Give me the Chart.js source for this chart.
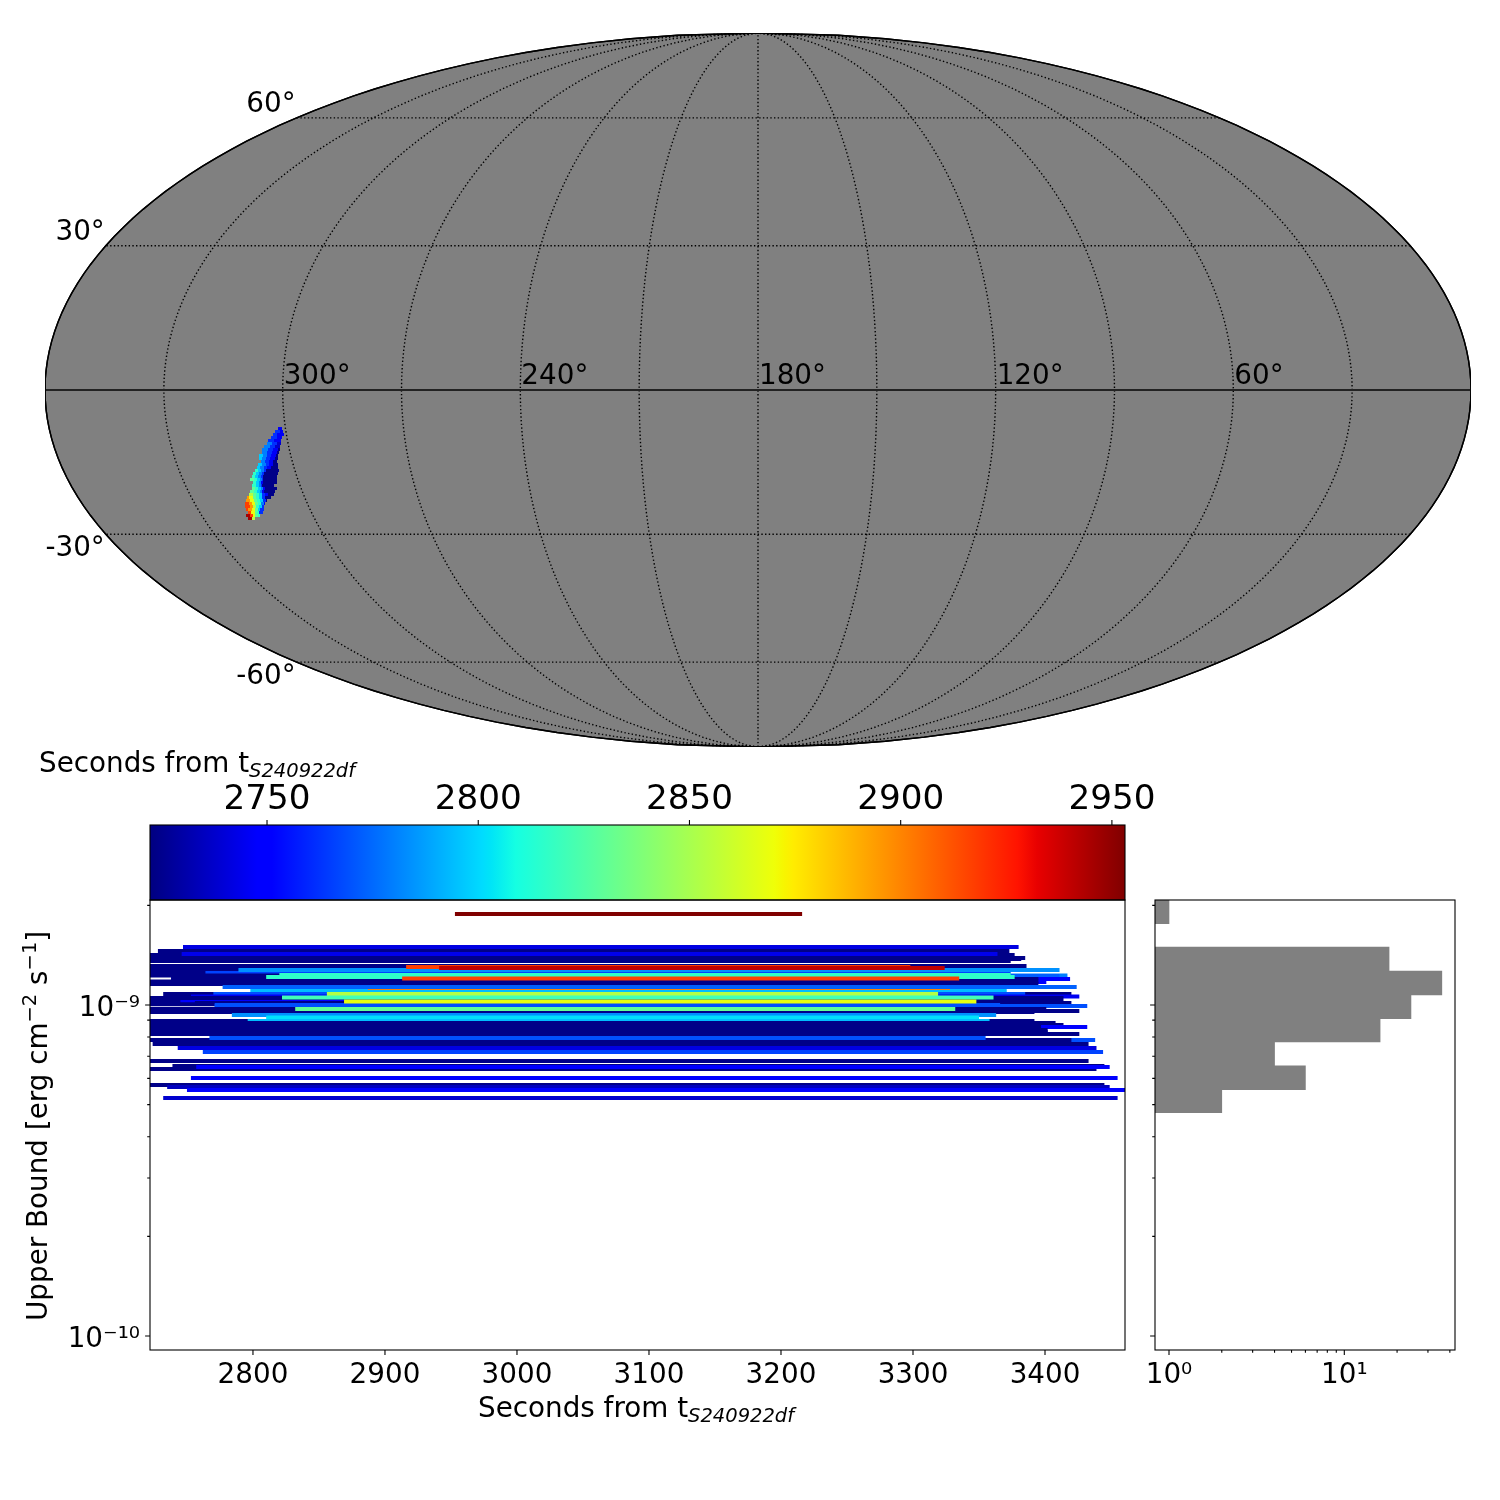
<!DOCTYPE html>
<html>
<head>
<meta charset="utf-8">
<title>S240922df upper bounds</title>
<script src="https://cdn.jsdelivr.net/npm/chart.js@4"></script>
<style>
  html, body { margin: 0; background: #fff; }
  #page { position: relative; width: 1500px; height: 1500px; overflow: hidden; }
  canvas { position: absolute; }
</style>
</head>
<body>
<div id="page">
  <canvas id="map" width="1500" height="760" style="left:0;top:0"></canvas>
  <canvas id="bar" width="1200" height="165" style="left:0;top:740px"></canvas>
  <canvas id="bounds" width="1140" height="550" style="left:0;top:890px"></canvas>
  <canvas id="hist" width="340" height="520" style="left:1140px;top:890px"></canvas>
</div>
<script>
const FONT = '"DejaVu Sans"';
const D = 2724;

// colorbar range and ticks
const timeMin = 2722.3;
const timeMax = 2953.1;
const barTicks = [2750, 2800, 2850, 2900, 2950];

// main panel: one horizontal line per row, later rows are drawn on top
const secondsMin = 2722;
const secondsMax = 3460.6;
const boundMin = 9.07e-11;
const boundMax = 2.076e-9;
const secondsTicks = [2800, 2900, 3000, 3100, 3200, 3300, 3400];

const lineBounds = [
  1.456, 1.497, 1.416, 1.426, 1.387, 1.377, 1.358, 1.312, 1.285, 1.249,
  1.249, 1.228, 1.223, 1.228, 1.198, 1.198, 1.174, 1.178, 1.157, 1.276,
  1.215, 1.110, 1.126, 1.133, 1.080, 1.080, 1.061, 1.050, 1.021, 1.021,
  1.014, 1.006, 0.993, 1.000, 0.959, 0.9726, 0.952, 0.933, 0.8947, 0.9168,
  0.8947, 0.8822, 0.870, 0.858, 0.858, 0.840, 0.830, 0.8177, 0.784, 0.784,
  0.795, 0.762, 0.7414, 0.7209, 0.6774, 0.6542, 0.6407, 0.6497, 0.6017, 0.5735,
  0.5655, 0.5535, 0.5236, 1.883, 1.303, 1.294, 1.232, 1.202, 1.080, 1.054,
  1.025, 0.9726
];
const lineStarts = [
  2728, 2747, 2700, 2746, 2700, 2700, 2700, 2700, 2700, 2700,
  2764, 2820, 2810, 2700, 2738, 2738, 2700, 2700, 2700, 2789,
  2810, 2798, 2887, 2777, 2732, 2770, 2753, 2700, 2700, 2745,
  2756, 2700, 2771, 2771, 2700, 2700, 2700, 2784, 2700, 2810,
  2796, 2700, 2700, 2796, 2700, 2700, 2700, 2700, 2767, 2700,
  2767, 2724, 2743, 2762, 2700, 2739, 2700, 2757, 2753, 2700,
  2735, 2750, 2732, 2953, 2916, 2941, 2820, 2913, 2856, 2822,
  2869, 2832
];
const lineEnds = [
  3373, 3380, 3377, 3364, 3385, 3382, 3374, 3386, 3365, 3360,
  3374, 3417, 3411, 2830, 3419, 3395, 3401, 3395, 3395, 3411,
  3377, 3371, 3328, 3424, 3420, 3385, 3426, 3414, 3414, 3348,
  3420, 3390, 3432, 3366, 3426, 3401, 3392, 3363, 3392, 3350,
  3358, 3408, 3414, 3432, 3397, 3402, 3402, 3426, 3438, 3420,
  3355, 3433, 3439, 3444, 3433, 3445, 3439, 3449, 3455, 3445,
  3449, 3462, 3455, 3216, 3298, 3324, 3374, 3335, 3319, 3361,
  3348, 3332
];
const lineTimes = [
  D, 2742, D, 2744, D, D, D, D, D, D,
  2766, 2780, 2773, D, 2750, D, 2750, D, D, 2784,
  2816, 2794, 2901, 2773, D, 2769, 2745, D, D, 2750,
  D, D, 2769, 2769, D, D, D, 2784, D, 2802,
  2794, D, D, 2750, D, D, D, D, 2769, D,
  2769, D, 2742, 2766, D, D, D, 2750, 2750, D,
  2735, 2750, 2738, 2953, 2917, 2940, 2816, 2917, 2853, 2821,
  2868, 2830
];

// histogram of the upper bounds
const histBins = [1.912, 1.377, 1.165, 0.988, 0.840, 0.711, 0.603, 0.513];
const histCounts = [1, 18, 36, 24, 16, 4, 6, 2];
const countMin = 0.832;
const countMax = 42.8;
const countMajor = [1, 10];
const countMinor = [2, 3, 4, 5, 6, 7, 8, 9, 20, 30, 40];
const boundMajor = [1e-10, 1e-9];
const boundMinor = [2e-10, 3e-10, 4e-10, 5e-10, 6e-10, 7e-10, 8e-10, 9e-10, 2e-9];

// sky map, Mollweide plane
const mapHalfWidth = 713;
const mapHalfHeight = 357;
const meridians = [30, 60, 90, 120, 150, 180, 210, 240, 270, 300, 330];
const parallels = [-60, -30, 30, 60];
const meridianLabels = [300, 240, 180, 120, 60];
const parallelLabels = [60, 30, -30, -60];

// sky patch, rows of cells in the Mollweide plane: edges left to right and the time of each band
const tB1 = 2738, tB2 = 2746, tB3 = 2762, tB4 = 2780, tC = 2797, tA = 2816, tG = 2830;
const tY1 = 2853, tY = 2868, tO = 2895, tR = 2917, tDR = 2945;
const patchRowY = [
  -38.5, -41.5, -44.5, -47.5, -50.5, -53.5, -56.5, -59.5, -62.5, -65.5, -68.5,
  -71.5, -74.5, -77.5, -80.5, -83.5, -86.5, -89.5, -92.5, -95.5, -98.5,
  -101.5, -104.5, -107.5, -110.5, -113.5, -116.5, -119.5, -122.5, -125.5, -128.5
];
const patchRowEdges = [
  [-480, -476], [-483, -478, -475], [-485, -481, -474], [-487, -481, -476], [-490, -484, -477],
  [-491, -486, -481, -477], [-494, -488, -483, -478], [-496, -490, -485, -480, -478],
  [-496, -491, -486, -481, -479], [-499, -495, -491, -487, -482, -480], [-499, -496, -492, -488, -483, -480],
  [-497, -493, -489, -485, -481], [-500, -496, -492, -489, -485, -480], [-501, -498, -494, -491, -487, -480],
  [-503, -500, -497, -494, -492, -479], [-505, -502, -499, -496, -494, -480], [-506, -503, -500, -497, -495, -481],
  [-508, -504, -501, -498, -496, -495, -481], [-505, -502, -499, -497, -495, -481], [-506, -502, -499, -497, -496, -484],
  [-506, -503, -500, -497, -495, -493, -481], [-508, -504, -501, -498, -496, -494, -483],
  [-509, -505, -502, -499, -496, -493, -490, -484], [-511, -509, -505, -502, -499, -496, -493, -487],
  [-512, -508, -504, -501, -498, -495, -492, -491], [-513, -509, -506, -503, -500, -497, -494, -493],
  [-513, -508, -505, -502, -499, -496, -494], [-512, -510, -506, -503, -500, -498, -494],
  [-510, -507, -503, -501, -499, -495], [-512, -508, -505, -503, -500, -498], [-510, -506, -503]
];
const patchRowTimes = [
  [tB2], [tB3, tB2], [tB3, tB2], [tB3, tB2], [tB3, tB2],
  [tB4, tB3, tB1], [tB4, tB3, tB1], [tB4, tB3, tB2, D],
  [tB4, tB3, tB2, D], [tC, tB4, tB3, tB2, D], [tC, tB4, tB3, tB2, D],
  [tB4, tB3, tB2, D], [tC, tB4, tB3, tB2, D], [tC, tB4, tB3, tB2, D],
  [tA, tC, tB4, tB3, D], [tA, tC, tB4, tB3, D], [tA, tC, tB4, tB3, D],
  [tG, tA, tC, tB4, tB3, D], [tA, tC, tB4, tB2, D], [tA, tC, tB4, tB3, D],
  [tG, tA, tC, tB4, tB2, D], [tG, tA, tC, tB4, tB2, D],
  [tY1, tG, tA, tC, tB3, tB2, D], [tO, tY, tG, tA, tC, tB3, D],
  [tO, tY, tG, tA, tC, tB3, D], [tR, tO, tY, tG, tA, tB4, tB2],
  [tR, tO, tY1, tA, tC, tB3], [tR, tO, tY, tG, tC, tB3],
  [tR, tY, tG, tA, tB3], [tDR, tR, tY, tG, tA], [tDR, tY1]
];

// jet colormap anchors
const jetRed = [[0, 0], [0.35, 0], [0.66, 1], [0.89, 1], [1, 0.5]];
const jetGreen = [[0, 0], [0.125, 0], [0.375, 1], [0.64, 1], [0.91, 0], [1, 0]];
const jetBlue = [[0, 0.5], [0.11, 1], [0.34, 1], [0.65, 0], [1, 0]];
const gradientStops = [0, 0.11, 0.125, 0.34, 0.35, 0.375, 0.64, 0.65, 0.66, 0.89, 0.91, 1];

function channel(anchors, f) {
  for (let i = 1; i < anchors.length; i++) {
    if (f <= anchors[i][0]) {
      const [x0, y0] = anchors[i - 1];
      const [x1, y1] = anchors[i];
      return y0 + (y1 - y0) * (f - x0) / (x1 - x0);
    }
  }
  return anchors[anchors.length - 1][1];
}

function jetFraction(f) {
  const r = Math.round(channel(jetRed, f) * 255);
  const g = Math.round(channel(jetGreen, f) * 255);
  const b = Math.round(channel(jetBlue, f) * 255);
  return `rgb(${r}, ${g}, ${b})`;
}

function jet(t) {
  const f = Math.min(1, Math.max(0, (t - timeMin) / (timeMax - timeMin)));
  return jetFraction(f);
}

function mollweide(lon, lat) {
  const phi = lat * Math.PI / 180;
  let theta = phi;
  if (Math.abs(lat) >= 90) {
    theta = Math.sign(lat) * Math.PI / 2;
  } else {
    for (let i = 0; i < 60; i++) {
      theta -= (2 * theta + Math.sin(2 * theta) - Math.PI * Math.sin(phi)) / (2 + 2 * Math.cos(2 * theta));
    }
  }
  return {
    x: mapHalfWidth * (180 - lon) / 180 * Math.cos(theta),
    y: mapHalfHeight * Math.sin(theta)
  };
}

function hline(x0, x1, y, color, width) {
  return {
    data: [{ x: x0, y: y }, { x: x1, y: y }],
    showLine: true,
    borderColor: color,
    borderWidth: width,
    borderCapStyle: 'butt',
    pointRadius: 0,
    clip: 0
  };
}

function curve(points, width, dash) {
  return {
    data: points,
    showLine: true,
    borderColor: '#000',
    borderWidth: width,
    borderDash: dash,
    pointRadius: 0,
    tension: 0
  };
}

function meridianPoints(lon) {
  const points = [];
  for (let lat = -90; lat <= 90; lat += 2) points.push(mollweide(lon, lat));
  return points;
}

function parallelPoints(lat) {
  const points = [];
  for (let lon = 0; lon <= 360; lon += 20) points.push(mollweide(lon, lat));
  return points;
}

// pins a scale to a fixed size so that the plot area lands where it should
function fixSize(size) {
  return scale => {
    if (scale.isHorizontal()) scale.height = size;
    else scale.width = size;
    scale.paddingLeft = scale.paddingRight = scale.paddingTop = scale.paddingBottom = 0;
  };
}

function setTicks(major, minor) {
  return scale => {
    const ticks = major.map(v => ({ value: v, major: true }));
    if (minor) minor.forEach(v => ticks.push({ value: v, major: false }));
    scale.ticks = ticks;
  };
}

function axis(type, min, max, major, minor, size, fontSize, padding, label, position) {
  return {
    type: type,
    min: min,
    max: max,
    position: position,
    afterBuildTicks: setTicks(major, minor),
    afterFit: fixSize(size),
    grid: { display: false, drawTicks: false },
    border: { display: false },
    ticks: {
      autoSkip: false,
      maxRotation: 0,
      color: '#000',
      padding: padding,
      font: { family: FONT, size: fontSize },
      callback: label
    }
  };
}

function powerLabel(value) {
  const labels = { 1: '10⁰', 10: '10¹', 1e-9: '10⁻⁹', 1e-10: '10⁻¹⁰' };
  return labels[value] || '';
}

// frame and tick marks, drawn here since matplotlib has two tick lengths
const frameAndTicks = {
  id: 'frameAndTicks',
  afterDatasetsDraw(chart) {
    const { ctx, chartArea: a, scales } = chart;
    ctx.save();
    ctx.strokeStyle = '#000';
    ctx.lineWidth = 1.1;
    ctx.strokeRect(a.left, a.top, a.right - a.left, a.bottom - a.top);
    ctx.beginPath();
    Object.values(scales).forEach(scale => {
      if (!scale.options.display) return;
      scale.ticks.forEach(tick => {
        const len = tick.major ? 4.9 : 2.8;
        const p = scale.getPixelForValue(tick.value);
        if (scale.isHorizontal()) {
          const y = scale.position === 'top' ? a.top : a.bottom;
          ctx.moveTo(p, y);
          ctx.lineTo(p, scale.position === 'top' ? y - len : y + len);
        } else {
          ctx.moveTo(a.left, p);
          ctx.lineTo(a.left - len, p);
        }
      });
    });
    ctx.stroke();
    ctx.restore();
  }
};

// text with sub and superscripts, as runs of [string, size, italic, shift]
function mixedText(items) {
  return {
    id: 'mixedText',
    afterDraw(chart) {
      const ctx = chart.ctx;
      items.forEach(item => {
        ctx.save();
        ctx.translate(item.x, item.y);
        if (item.vertical) ctx.rotate(-Math.PI / 2);
        ctx.fillStyle = '#000';
        ctx.textBaseline = 'alphabetic';
        let pen = 0;
        item.runs.forEach(([text, size, italic, shift]) => {
          ctx.font = `${italic ? 'italic ' : ''}${size}px ${FONT}`;
          ctx.fillText(text, pen, shift || 0);
          pen += ctx.measureText(text).width;
        });
        ctx.restore();
      });
    }
  };
}

function secondsTitle(x, y) {
  return { x: x, y: y, runs: [['Seconds from t', 27.8], ['S240922df', 19.5, true, 5]] };
}

const mapLabels = {
  id: 'mapLabels',
  afterDraw(chart) {
    const { ctx, scales } = chart;
    ctx.save();
    ctx.fillStyle = '#000';
    ctx.font = `27.8px ${FONT}`;
    ctx.textBaseline = 'alphabetic';
    ctx.textAlign = 'left';
    meridianLabels.forEach(lon => {
      const p = mollweide(lon, 0);
      ctx.fillText(lon + '°', scales.x.getPixelForValue(p.x) + 1, scales.y.getPixelForValue(0) - 6);
    });
    ctx.textAlign = 'right';
    parallelLabels.forEach(lat => {
      const p = mollweide(360, lat);
      const y = scales.y.getPixelForValue(p.y);
      ctx.fillText(lat + '°', scales.x.getPixelForValue(-Math.abs(p.x)) - 1, lat > 0 ? y - 6 : y + 22);
    });
    ctx.restore();
  }
};

function drawMap() {
  const outline = meridianPoints(360).concat(meridianPoints(0).reverse());
  const back = curve(outline, 1.4);
  back.fill = 'shape';
  back.backgroundColor = '#808080';

  const grid = [];
  meridians.forEach(lon => grid.push(curve(meridianPoints(lon), 1.4, [1.4, 2.3])));
  parallels.forEach(lat => grid.push(curve(parallelPoints(lat), 1.4, [1.4, 2.3])));
  const equator = curve(parallelPoints(0), 2);
  equator.borderColor = '#222';
  grid.push(equator);

  const cells = [];
  patchRowY.forEach((y, r) => {
    patchRowTimes[r].forEach((t, i) => {
      cells.push(hline(patchRowEdges[r][i], patchRowEdges[r][i + 1], y, jet(t), 3));
    });
  });

  // first dataset is painted last in Chart.js
  const datasets = [back, ...grid, ...cells, curve(outline, 1.4)].reverse();

  new Chart(document.getElementById('map'), {
    type: 'scatter',
    data: { datasets: datasets },
    options: {
      responsive: false,
      animation: false,
      layout: { padding: { left: 45, right: 29, top: 33, bottom: 13 } },
      plugins: { legend: { display: false }, tooltip: { enabled: false } },
      scales: {
        x: { type: 'linear', min: -mapHalfWidth, max: mapHalfWidth, display: false },
        y: { type: 'linear', min: -mapHalfHeight, max: mapHalfHeight, display: false }
      }
    },
    plugins: [mapLabels]
  });
}

function drawColorbar() {
  const ramp = hline(timeMin, timeMax, 0.5, context => {
    const chart = context.chart;
    if (!chart.chartArea) return '#000';
    const g = chart.ctx.createLinearGradient(chart.chartArea.left, 0, chart.chartArea.right, 0);
    gradientStops.forEach(f => g.addColorStop(f, jetFraction(f)));
    return g;
  }, 75);

  new Chart(document.getElementById('bar'), {
    type: 'scatter',
    data: { datasets: [ramp] },
    options: {
      responsive: false,
      animation: false,
      layout: { padding: { left: 150, right: 75, top: 5, bottom: 5 } },
      plugins: { legend: { display: false }, tooltip: { enabled: false } },
      scales: {
        x: axis('linear', timeMin, timeMax, barTicks, null, 80, 34.2, 4, v => String(v), 'top'),
        y: { type: 'linear', min: 0, max: 1, display: false }
      }
    },
    plugins: [frameAndTicks, mixedText([secondsTitle(39, 32)])]
  });
}

function drawBounds() {
  const datasets = lineBounds.map((b, i) =>
    hline(lineStarts[i], lineEnds[i], b * 1e-9, jet(lineTimes[i]), 4)).reverse();
  const yAxis = axis('logarithmic', boundMin, boundMax, boundMajor, boundMinor, 150, 27.8, 10, powerLabel, 'left');
  yAxis.ticks.labelOffset = 4;

  new Chart(document.getElementById('bounds'), {
    type: 'scatter',
    data: { datasets: datasets },
    options: {
      responsive: false,
      animation: false,
      layout: { padding: { right: 15, top: 10 } },
      plugins: { legend: { display: false }, tooltip: { enabled: false } },
      scales: {
        x: axis('linear', secondsMin, secondsMax, secondsTicks, null, 90, 27.8, 9, v => String(v), 'bottom'),
        y: yAxis
      }
    },
    plugins: [frameAndTicks, mixedText([
      secondsTitle(478, 527),
      {
        x: 47, y: 431, vertical: true,
        runs: [['Upper Bound [erg cm', 27.8], ['−2', 19.5, false, -11], [' s', 27.8], ['−1', 19.5, false, -11], [']', 27.8]]
      }
    ])]
  });
}

function drawHist() {
  new Chart(document.getElementById('hist'), {
    type: 'bar',
    data: {
      datasets: [{
        data: histBins.map((b, i) => ({ x: histCounts[i], y: b * 1e-9 })),
        backgroundColor: '#808080',
        barThickness: 23.7,
        borderWidth: 0
      }]
    },
    options: {
      indexAxis: 'y',
      responsive: false,
      animation: false,
      layout: { padding: { right: 25, top: 10 } },
      plugins: { legend: { display: false }, tooltip: { enabled: false } },
      scales: {
        x: axis('logarithmic', countMin, countMax, countMajor, countMinor, 60, 27.8, 9, powerLabel, 'bottom'),
        y: axis('logarithmic', boundMin, boundMax, boundMajor, boundMinor, 15, 27.8, 10, () => '', 'left')
      }
    },
    plugins: [frameAndTicks]
  });
}

function main() {
  drawMap();
  drawColorbar();
  drawBounds();
  drawHist();
}

main();
</script>
</body>
</html>
